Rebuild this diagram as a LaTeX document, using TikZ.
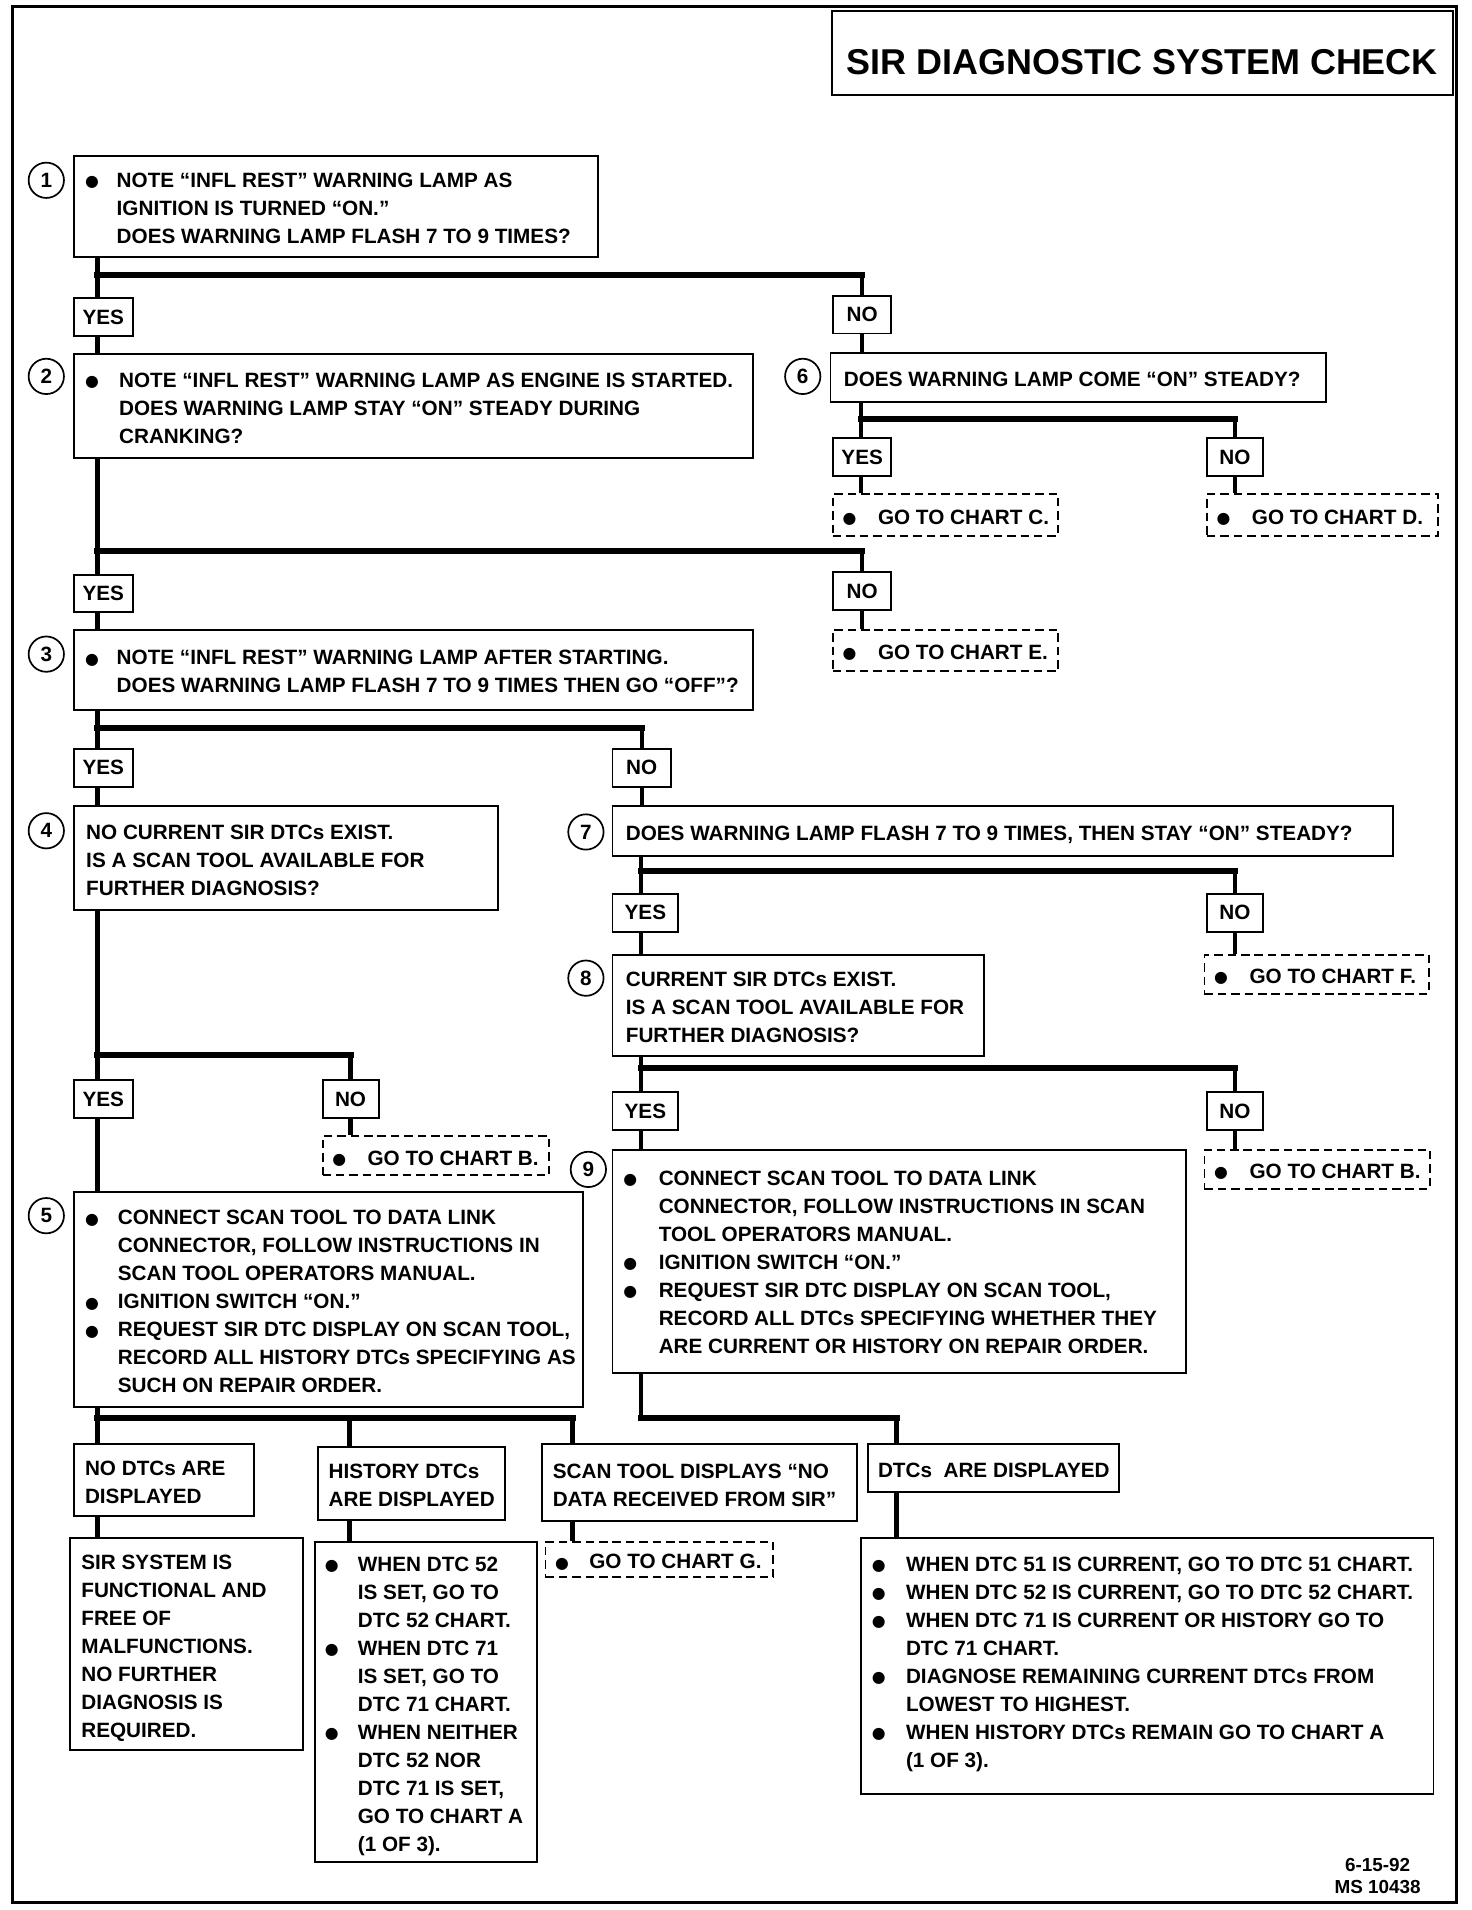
\documentclass[tikz,border=0pt]{standalone}
\usepackage{fontspec}
\setmainfont{Liberation Sans}
\newfontfamily\dvs{DejaVu Sans}
\newcommand\bdot{\raisebox{0.5pt}{\dvs\fontsize{13}{13}\selectfont ●}}
\newcommand\tb[4][-3pt]{\raisebox{#1}[\height][\depth]{\makebox[#2pt][l]{\hspace*{#3pt}\begin{tabular}{@{}l@{}}#4\end{tabular}}}}
\newcommand\bl[1]{\makebox[#1pt][l]{\bdot}}
\newcommand\ct[1]{\hspace*{#1pt}}
\begin{document}
\begin{tikzpicture}[x=1pt,y=-1pt,
  every node/.style={font=\bfseries\fontsize{17}{23}\selectfont},
  box/.style={draw, line width=1.6pt, inner sep=0pt, anchor=north west},
  dbox/.style={box, dash pattern=on 7pt off 4pt},
  yn/.style={draw, line width=1.6pt, inner sep=0pt, anchor=north west, align=center},
  numc/.style={circle, draw, line width=1.4pt, minimum size=29pt, inner sep=0pt},
  vl/.style={line width=3.6pt},
  hb/.style={line width=5pt, line cap=rect}]
\useasboundingbox (0,0) rectangle (1208,1568);
\draw[line width=2.5pt] (10,5) rectangle (1196,1562);

% title
\node[box, minimum width=510pt, minimum height=69pt, text height=35pt, text depth=0pt,
  font=\bfseries\fontsize{29.5}{32}\selectfont] (title) at (682,8) {SIR DIAGNOSTIC SYSTEM CHECK};

% step 1
\node[numc] (c1) at (38,148) {1};
\node[box, minimum width=430pt, minimum height=83pt] (b1) at (60,127)
 {\tb{430}{9}{\bl{26}NOTE “INFL REST” WARNING LAMP AS\\ \ct{26}IGNITION IS TURNED “ON.”\\ \ct{26}DOES WARNING LAMP FLASH 7 TO 9 TIMES?}};
\node[yn, minimum width=48pt, minimum height=31pt] (y1) at (60,244) {YES};
\node[yn, minimum width=48pt, minimum height=31pt] (n1) at (683,242) {NO};

% step 2
\node[numc] (c2) at (38,309) {2};
\node[box, minimum width=557pt, minimum height=85pt] (b2) at (60,290)
 {\tb{557}{9}{\bl{28}NOTE “INFL REST” WARNING LAMP AS ENGINE IS STARTED.\\ \ct{28}DOES WARNING LAMP STAY “ON” STEADY DURING\\ \ct{28}CRANKING?}};
\node[yn, minimum width=48pt, minimum height=31pt] (y2) at (60,471) {YES};
\node[yn, minimum width=48pt, minimum height=31pt] (n2) at (683,469) {NO};
\node[dbox, minimum width=185pt, minimum height=34pt] (gE) at (683,516)
 {\tb{185}{8}{\bl{29}GO TO CHART E.}};

% step 6
\node[numc] (c6) at (659,309) {6};
\node[box, minimum width=407pt, minimum height=40pt] (b6) at (681,289)
 {\tb{407}{11}{DOES WARNING LAMP COME “ON” STEADY?}};
\node[yn, minimum width=48pt, minimum height=31pt] (y6) at (683,359) {YES};
\node[yn, minimum width=46pt, minimum height=31pt] (n6) at (990,359) {NO};
\node[dbox, minimum width=185pt, minimum height=34pt] (gC) at (683,405)
 {\tb{185}{8}{\bl{29}GO TO CHART C.}};
\node[dbox, minimum width=190pt, minimum height=34pt] (gD) at (990,405)
 {\tb{190}{8}{\bl{29}GO TO CHART D.}};

% step 3
\node[numc] (c3) at (38,537) {3};
\node[box, minimum width=557pt, minimum height=66pt] (b3) at (60,516)
 {\tb{557}{9}{\bl{26}NOTE “INFL REST” WARNING LAMP AFTER STARTING.\\ \ct{26}DOES WARNING LAMP FLASH 7 TO 9 TIMES THEN GO “OFF”?}};
\node[yn, minimum width=48pt, minimum height=31pt] (y3) at (60,614) {YES};
\node[yn, minimum width=48pt, minimum height=31pt] (n3) at (502,614) {NO};

% step 4
\node[numc] (c4) at (38,682) {4};
\node[box, minimum width=348pt, minimum height=85pt] (b4) at (60,661)
 {\tb{348}{10}{NO CURRENT SIR DTCs EXIST.\\ IS A SCAN TOOL AVAILABLE FOR\\ FURTHER DIAGNOSIS?}};
\node[yn, minimum width=48pt, minimum height=31pt] (y4) at (60,886) {YES};
\node[yn, minimum width=46pt, minimum height=31pt] (n4) at (264,886) {NO};
\node[dbox, minimum width=186pt, minimum height=32pt] (gB1) at (264,932)
 {\tb{186}{8}{\bl{29}GO TO CHART B.}};

% step 7
\node[numc] (c7) at (481,683) {7};
\node[box, minimum width=641pt, minimum height=41pt] (b7) at (502,661)
 {\tb{641}{11}{DOES WARNING LAMP FLASH 7 TO 9 TIMES, THEN STAY “ON” STEADY?}};
\node[yn, minimum width=54pt, minimum height=31pt] (y7) at (502,733) {YES};
\node[yn, minimum width=46pt, minimum height=31pt] (n7) at (990,733) {NO};
\node[dbox, minimum width=184pt, minimum height=32pt] (gF) at (988,783)
 {\tb{184}{8}{\bl{29}GO TO CHART F.}};

% step 8
\node[numc] (c8) at (481,803) {8};
\node[box, minimum width=305pt, minimum height=83pt] (b8) at (502,783)
 {\tb{305}{11}{CURRENT SIR DTCs EXIST.\\ IS A SCAN TOOL AVAILABLE FOR\\ FURTHER DIAGNOSIS?}};
\node[yn, minimum width=54pt, minimum height=31pt] (y8) at (502,896) {YES};
\node[yn, minimum width=46pt, minimum height=31pt] (n8) at (990,896) {NO};
\node[dbox, minimum width=185pt, minimum height=32pt] (gB2) at (988,943)
 {\tb{185}{8}{\bl{29}GO TO CHART B.}};

% step 9
\node[numc] (c9) at (483,960) {9};
\node[box, minimum width=471pt, minimum height=183pt] (b9) at (502,943)
 {\tb[-2pt]{471}{9}{\bl{29}CONNECT SCAN TOOL TO DATA LINK\\ \ct{29}CONNECTOR, FOLLOW INSTRUCTIONS IN SCAN\\ \ct{29}TOOL OPERATORS MANUAL.\\ \bl{29}IGNITION SWITCH “ON.”\\ \bl{29}REQUEST SIR DTC DISPLAY ON SCAN TOOL,\\ \ct{29}RECORD ALL DTCs SPECIFYING WHETHER THEY\\ \ct{29}ARE CURRENT OR HISTORY ON REPAIR ORDER.}};

% step 5
\node[numc] (c5) at (38,998) {5};
\node[box, minimum width=418pt, minimum height=176pt] (b5) at (60,978)
 {\tb{418}{9}{\bl{27}CONNECT SCAN TOOL TO DATA LINK\\ \ct{27}CONNECTOR, FOLLOW INSTRUCTIONS IN\\ \ct{27}SCAN TOOL OPERATORS MANUAL.\\ \bl{27}IGNITION SWITCH “ON.”\\ \bl{27}REQUEST SIR DTC DISPLAY ON SCAN TOOL,\\ \ct{27}RECORD ALL HISTORY DTCs SPECIFYING AS\\ \ct{27}SUCH ON REPAIR ORDER.}};

% result row
\node[box, minimum width=148pt, minimum height=59pt] (r1) at (60,1185)
 {\tb{148}{9}{NO DTCs ARE\\ DISPLAYED}};
\node[box, minimum width=154pt, minimum height=60pt] (r2) at (260,1187)
 {\tb{154}{9}{HISTORY DTCs\\ ARE DISPLAYED}};
\node[box, minimum width=259pt, minimum height=63pt] (r3) at (444,1185)
 {\tb{259}{9}{SCAN TOOL DISPLAYS “NO\\ DATA RECEIVED FROM SIR”}};
\node[box, minimum width=206pt, minimum height=39pt] (r4) at (712,1185)
 {\tb{206}{8}{DTCs \ ARE DISPLAYED}};

\node[box, minimum width=191pt, minimum height=174pt] (s1) at (57,1262)
 {\tb{191}{9}{SIR SYSTEM IS\\ FUNCTIONAL AND\\ FREE OF\\ MALFUNCTIONS.\\ NO FURTHER\\ DIAGNOSIS IS\\ REQUIRED.}};
\node[box, minimum width=182pt, minimum height=263pt] (s2) at (258,1265)
 {\tb{182}{8}{\bl{27}WHEN DTC 52\\ \ct{27}IS SET, GO TO\\ \ct{27}DTC 52 CHART.\\ \bl{27}WHEN DTC 71\\ \ct{27}IS SET, GO TO\\ \ct{27}DTC 71 CHART.\\ \bl{27}WHEN NEITHER\\ \ct{27}DTC 52 NOR\\ \ct{27}DTC 71 IS SET,\\ \ct{27}GO TO CHART A\\ \ct{27}(1 OF 3).}};
\node[dbox, minimum width=187pt, minimum height=29pt] (gG) at (447,1265)
 {\tb{187}{8}{\bl{28}GO TO CHART G.}};
\node[box, minimum width=470pt, minimum height=210pt] (s4) at (706,1262)
 {\tb[2pt]{470}{9}{\bl{28}WHEN DTC 51 IS CURRENT, GO TO DTC 51 CHART.\\ \bl{28}WHEN DTC 52 IS CURRENT, GO TO DTC 52 CHART.\\ \bl{28}WHEN DTC 71 IS CURRENT OR HISTORY GO TO\\ \ct{28}DTC 71 CHART.\\ \bl{28}DIAGNOSE REMAINING CURRENT DTCs FROM\\ \ct{28}LOWEST TO HIGHEST.\\ \bl{28}WHEN HISTORY DTCs REMAIN GO TO CHART A\\ \ct{28}(1 OF 3).}};

% footer
\node[anchor=south, align=center, font=\bfseries\fontsize{15.5}{18}\selectfont] (foot) at (1131,1558) {6-15-92\\MS 10438};

% connectors
\coordinate (J1) at (80,226);
\draw[vl] (b1.south -| J1) -- (y1.north -| J1);
\draw[hb] (J1) -- (J1 -| n1);
\draw[vl] (J1 -| n1) -- (n1.north);
\draw[vl] (n1.south) -- (b6.north -| n1);
\draw[vl] (y1.south -| J1) -- (b2.north -| J1);

\coordinate (J2) at (80,452);
\draw[vl] (b2.south -| J2) -- (y2.north -| J2);
\draw[hb] (J2) -- (J2 -| n2);
\draw[vl] (J2 -| n2) -- (n2.north);
\draw[vl] (n2.south) -- (gE.north -| n2);
\draw[vl] (y2.south -| J2) -- (b3.north -| J2);

\coordinate (J6) at (707,344);
\draw[vl] (b6.south -| J6) -- (y6.north -| J6);
\draw[hb] (J6) -- (J6 -| n6);
\draw[vl] (J6 -| n6) -- (n6.north);
\draw[vl] (y6.south -| J6) -- (gC.north -| J6);
\draw[vl] (n6.south) -- (gD.north -| n6);

\coordinate (J3) at (80,598);
\draw[vl] (b3.south -| J3) -- (y3.north -| J3);
\draw[hb] (J3) -- (J3 -| n3);
\draw[vl] (J3 -| n3) -- (n3.north);
\draw[vl] (n3.south) -- (b7.north -| n3);
\draw[vl] (y3.south -| J3) -- (b4.north -| J3);

\coordinate (J4) at (80,866);
\draw[vl] (b4.south -| J4) -- (y4.north -| J4);
\draw[hb] (J4) -- (J4 -| n4);
\draw[vl] (J4 -| n4) -- (n4.north);
\draw[vl] (n4.south) -- (gB1.north -| n4);
\draw[vl] (y4.south -| J4) -- (b5.north -| J4);

\coordinate (J7) at (526,715);
\draw[vl] (b7.south -| J7) -- (y7.north -| J7);
\draw[hb] (J7) -- (J7 -| n7);
\draw[vl] (J7 -| n7) -- (n7.north);
\draw[vl] (n7.south) -- (gF.north -| n7);
\draw[vl] (y7.south -| J7) -- (b8.north -| J7);

\coordinate (J8) at (526,877);
\draw[vl] (b8.south -| J8) -- (y8.north -| J8);
\draw[hb] (J8) -- (J8 -| n8);
\draw[vl] (J8 -| n8) -- (n8.north);
\draw[vl] (n8.south) -- (gB2.north -| n8);
\draw[vl] (y8.south -| J8) -- (b9.north -| J8);

\coordinate (J5) at (80,1164);
\coordinate (K2) at (287,1164);
\coordinate (K3) at (470,1164);
\draw[vl] (b5.south -| J5) -- (r1.north -| J5);
\draw[hb] (J5) -- (K3);
\draw[vl] (K2) -- (r2.north -| K2);
\draw[vl] (K3) -- (r3.north -| K3);
\draw[vl] (r1.south -| J5) -- (s1.north -| J5);
\draw[vl] (r2.south -| K2) -- (s2.north -| K2);
\draw[vl] (r3.south -| K3) -- (gG.north -| K3);

\coordinate (J9) at (526,1164);
\coordinate (K4) at (736,1164);
\draw[vl] (b9.south -| J9) -- (J9);
\draw[hb] (J9) -- (K4);
\draw[vl] (K4) -- (r4.north -| K4);
\draw[vl] (r4.south -| K4) -- (s4.north -| K4);
\end{tikzpicture}
\end{document}
